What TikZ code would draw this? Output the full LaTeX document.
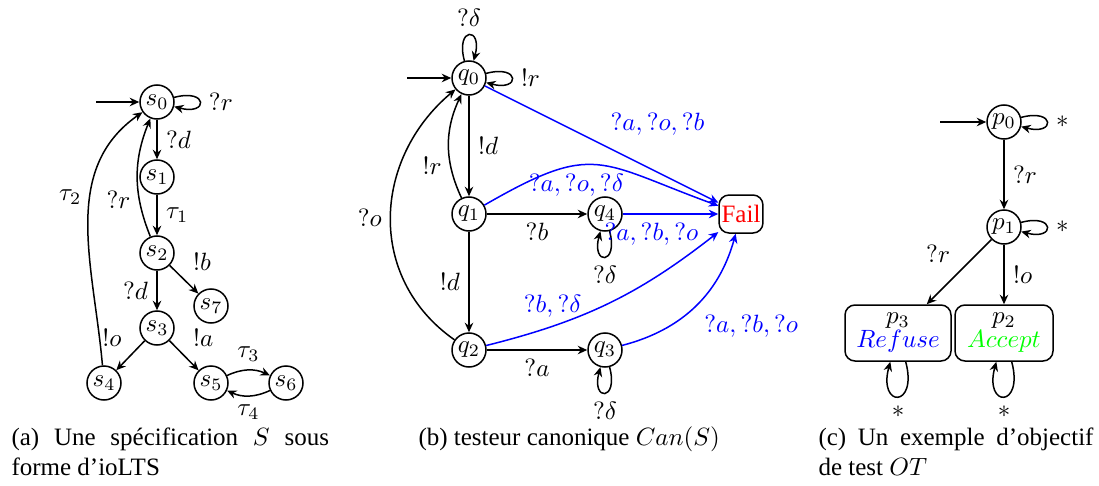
\documentclass[tikz,border=0pt]{standalone}
\usepackage{fontspec}
\setmainfont{Liberation Serif}
\usepackage{tikz}
\usetikzlibrary{arrows.meta}
\tikzset{
  st/.style={circle,draw,semithick,minimum size=13.6pt,inner sep=0pt},
  ar/.style={-{Stealth[length=3.8pt,width=3.4pt]},semithick},
  bl/.style={ar,blue},
  obj/.style={draw,semithick,rounded corners=4pt,align=center,minimum height=22.4pt,inner sep=1pt},
  captext/.style={inner sep=0pt,align=justify}
}
\begin{document}
\begin{tikzpicture}[x=0.4pt,y=0.4pt]
\useasboundingbox (0,0) rectangle (1099,-486);
% (a) specification
\node[st] (s0) at (157,-102) {$s_0$};
\node[st] (s1) at (157,-177) {$s_1$};
\node[st] (s2) at (157,-253) {$s_2$};
\node[st] (s7) at (211,-306) {$s_7$};
\node[st] (s3) at (157,-328) {$s_3$};
\node[st] (s4) at (104,-383) {$s_4$};
\node[st] (s5) at (211,-383) {$s_5$};
\node[st] (s6) at (286,-383) {$s_6$};
\coordinate (s0in) at (96,-102);
\draw[ar] (s0in) -- (s0);
\draw[ar] (s0) to[loop right] node[right] {$?r$} ();
\draw[ar] (s0) -- node[right] {$?d$} (s1);
\draw[ar] (s1) -- node[right] {$\tau_1$} (s2);
\draw[ar] (s2) to[bend left=22] node[pos=0.3,left] {$?r$} (s0);
\draw[ar] (s2) -- node[above right] {$!b$} (s7);
\draw[ar] (s2) -- node[left] {$?d$} (s3);
\draw[ar] (s3) -- node[above left] {$!o$} (s4);
\draw[ar] (s3) -- node[above right] {$!a$} (s5);
\draw[ar] (s5) to[bend left=25] node[above] {$\tau_3$} (s6);
\draw[ar] (s6) to[bend left=25] node[below] {$\tau_4$} (s5);
\draw[ar] (s4) to[out=95,in=215] node[pos=0.6,left] {$\tau_2$} (s0);
% (b) canonical tester
\node[st] (q0) at (469,-78) {$q_0$};
\node[st] (q1) at (469,-214) {$q_1$};
\node[st] (q2) at (469,-350) {$q_2$};
\node[st] (q4) at (605,-214) {$q_4$};
\node[st] (q3) at (605,-350) {$q_3$};
\node[draw,semithick,rounded corners=4pt,minimum width=15.2pt,minimum height=15.2pt,inner sep=1pt,text=red] (fail) at (741,-214) {Fail};
\coordinate (q0in) at (407,-78);
\draw[ar] (q0in) -- (q0);
\draw[ar] (q0) to[loop above] node[above] {$?\delta$} ();
\draw[ar] (q0) to[loop right] node[right] {$!r$} ();
\draw[ar] (q0) -- node[right] {$!d$} (q1);
\draw[ar] (q1) to[bend left=25] node[pos=0.3,left] {$!r$} (q0);
\draw[ar] (q2) to[out=145,in=220,looseness=1.1] node[left] {$?o$} (q0);
\draw[ar] (q1) -- node[left] {$!d$} (q2);
\draw[ar] (q1) -- node[below] {$?b$} (q4);
\draw[ar] (q2) -- node[below] {$?a$} (q3);
\draw[ar] (q4) to[loop below] node[below] {$?\delta$} ();
\draw[ar] (q3) to[loop below] node[below] {$?\delta$} ();
\draw[bl] (q0) -- node[above right,text=blue] {$?a,?o,?b$} (fail);
\draw[bl] (q1) to[out=30,in=160,looseness=1.4] node[pos=0.38,below,text=blue] {$?a,?o,?\delta$} (fail);
\draw[bl] (q4) -- node[pos=0.3,below,text=blue] {$?a,?b,?o$} (fail);
\draw[bl] (q2) to[bend right=12] node[pos=0.25,above,text=blue] {$?b,?\delta$} (fail);
\draw[bl] (q3) to[bend right=30] node[below right,text=blue] {$?a,?b,?o$} (fail);
% (c) test purpose
\node[st] (p0) at (1004,-122) {$p_0$};
\node[st] (p1) at (1004,-227) {$p_1$};
\node[obj,minimum width=42.4pt] (p3) at (898,-333) {$p_3$\\[-2.4pt]\textcolor{blue}{$Refuse$}};
\node[obj,minimum width=39.2pt] (p2) at (1004,-333) {$p_2$\\[-2.4pt]\textcolor{green}{$Accept$}};
\coordinate (p0in) at (940,-122);
\draw[ar] (p0in) -- (p0);
\draw[ar] (p0) to[loop right] node[right] {$*$} ();
\draw[ar] (p1) to[loop right] node[right] {$*$} ();
\draw[ar] (p0) -- node[right] {$?r$} (p1);
\draw[ar] (p1) -- node[above left] {$?r$} (p3);
\draw[ar] (p1) -- node[right] {$!o$} (p2);
\draw[ar] (p3) to[loop below] node[below] {$*$} ();
\draw[ar] (p2) to[loop below] node[below] {$*$} ();
% captions
\node[captext,text width=127pt,anchor=north west] (capa) at (11,-427) {(a) Une spécification $S$ sous\linebreak forme d'ioLTS};
\node[captext,anchor=base west] (capb) at (418,-445) {(b) testeur canonique $Can(S)$};
\node[captext,text width=110pt,anchor=north west] (capc) at (818,-427) {(c) Un exemple d'objectif\linebreak de test $OT$};
\end{tikzpicture}
\end{document}
